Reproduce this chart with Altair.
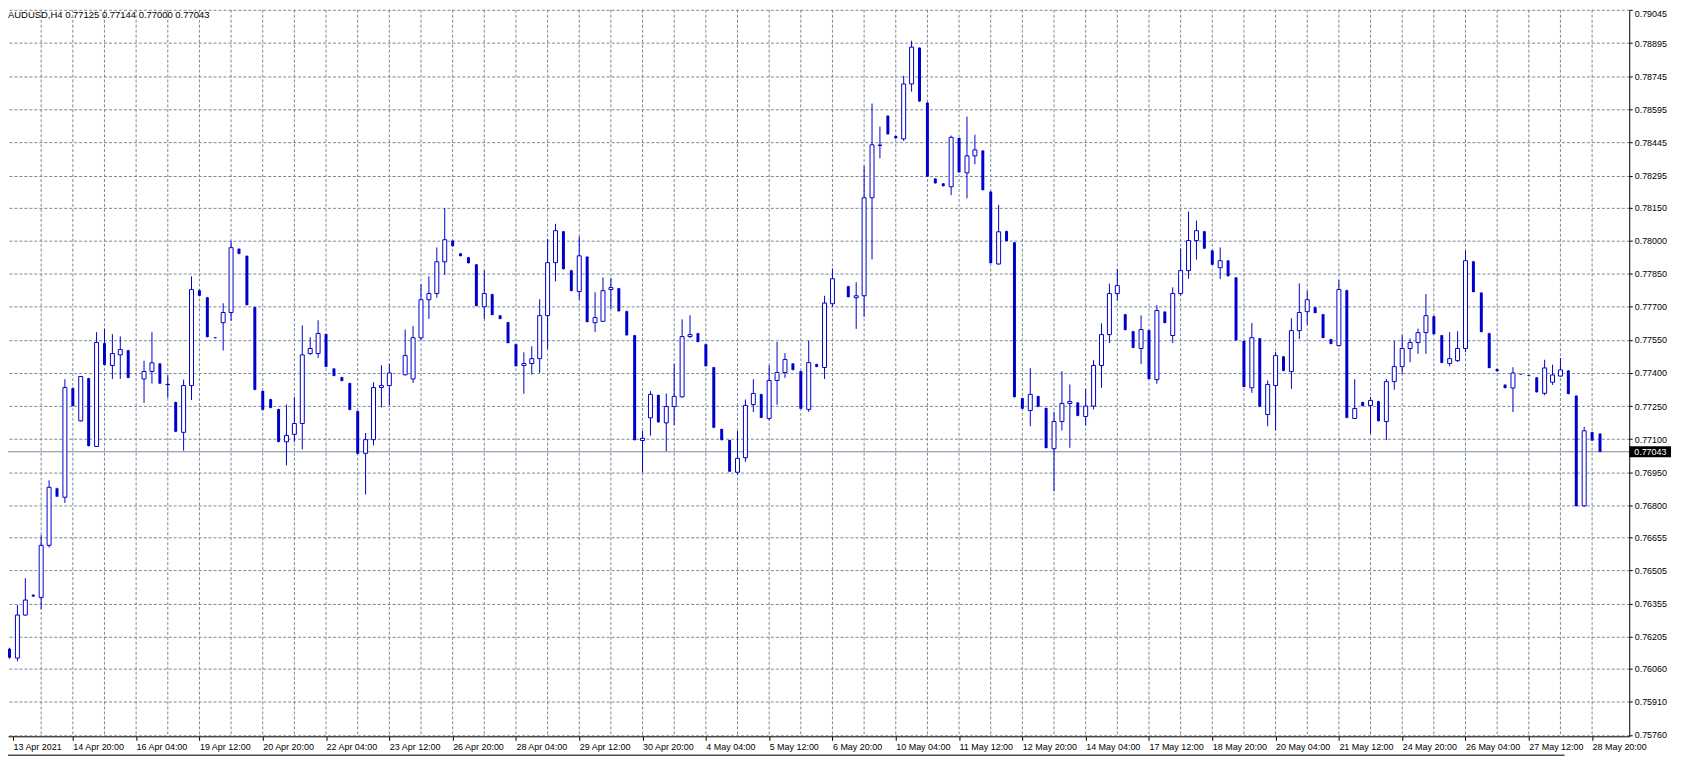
import altair as alt
import pandas as pd

# ---------------- data (AUDUSD H4) ----------------
open_ = [0.76150, 0.76108, 0.76303, 0.76395, 0.76383, 0.76619, 0.76877, 0.76837, 0.77331, 0.77183,
         0.77376, 0.77067, 0.77535, 0.77434, 0.77482, 0.77503, None, 0.77373, 0.77407, 0.77443,
         0.77348, 0.77268, 0.77131, 0.77343, 0.77775, 0.77743, 0.77562, 0.77628, 0.77674, 0.77963,
         0.77931, 0.77698, 0.77318, 0.77281, 0.77236, 0.77088, 0.77122, 0.77171, 0.77488, 0.77488,
         0.77576, 0.77420, 0.77381, 0.77354, 0.77227, 0.77036, 0.77098, 0.77334, 0.77343, None,
         0.77392, 0.77373, 0.77559, 0.77732, 0.77760, 0.77904, 0.78000, 0.77942, 0.77924, 0.77892,
         0.77700, 0.77757, 0.77661, 0.77630, 0.77530, 0.77434, 0.77443, 0.77465, 0.77660, 0.77900,
         0.78042, 0.77865, 0.77769, 0.77927, 0.77628, 0.77634, 0.77778, 0.77784, 0.77680, 0.77571,
         0.77094, 0.77197, 0.77300, 0.77174, 0.77248, 0.77292, 0.77565, 0.77580, 0.77530, 0.77426,
         0.77146, 0.77096, 0.76950, 0.77016, 0.77257, 0.77304, 0.77194, 0.77366, 0.77402, 0.77443,
         0.77408, 0.77235, 0.77440, 0.77425, 0.77714, None, 0.77793, 0.77741, 0.77750, 0.78194,
         0.78432, 0.78566, 0.78474, 0.78461, 0.78710, 0.78874, 0.78625, 0.78281, 0.78259, 0.78244,
         0.78465, 0.78307, 0.78384, 0.78408, 0.78222, 0.77894, 0.78043, 0.77992, 0.77286, 0.77230,
         0.77295, 0.77241, 0.77057, 0.77180, 0.77262, 0.77266, 0.77203, 0.77250, 0.77434, 0.77574,
         0.77760, 0.77666, 0.77589, 0.77511, 0.77594, 0.77370, 0.77678, 0.77570, 0.77760, 0.77864,
         0.78000, 0.78042, 0.77955, 0.77877, 0.77910, 0.77833, 0.77545, 0.77333, 0.77557, 0.77212,
         0.77343, 0.77475, 0.77407, 0.77592, 0.77678, 0.77698, 0.77666, 0.77553, 0.77524, 0.77775,
         0.77194, 0.77268, 0.77253, 0.77272, 0.77180, 0.77361, 0.77429, 0.77511, 0.77538, 0.77583,
         0.77657, 0.77571, 0.77443, 0.77456, 0.77511, 0.77906, 0.77764, 0.77580, 0.77418, 0.77347,
         0.77332, 0.77396, 0.77390, 0.77380, 0.77308, 0.77358, 0.77386, 0.77411, 0.77297, 0.76798,
         0.77132, 0.77125]

high = [0.76155, 0.76348, 0.76470, 0.76397, 0.76665, 0.76914, 0.76880, 0.77372, 0.77335, 0.77386,
        0.77378, 0.77585, 0.77600, 0.77576, 0.77566, 0.77505, None, 0.77456, 0.77585, 0.77445,
        0.77389, 0.77270, 0.77370, 0.77838, 0.77778, 0.77745, 0.77563, 0.77716, 0.77999, 0.77965,
        0.77933, 0.77700, 0.77320, 0.77283, 0.77238, 0.77257, 0.77291, 0.77616, 0.77562, 0.77639,
        0.77578, 0.77422, 0.77383, 0.77356, 0.77229, 0.77128, 0.77358, 0.77435, 0.77441, None,
        0.77597, 0.77612, 0.77802, 0.77838, 0.77969, 0.78147, 0.78002, 0.77944, 0.77926, 0.77894,
        0.77865, 0.77759, 0.77663, 0.77632, 0.77532, 0.77494, 0.77521, 0.77734, 0.78007, 0.78076,
        0.78044, 0.77867, 0.78019, 0.77929, 0.77766, 0.77833, 0.77830, 0.77786, 0.77682, 0.77573,
        0.77137, 0.77318, 0.77302, 0.77307, 0.77441, 0.77643, 0.77661, 0.77582, 0.77532, 0.77428,
        0.77148, 0.77098, 0.77137, 0.77280, 0.77372, 0.77306, 0.77435, 0.77541, 0.77490, 0.77445,
        0.77410, 0.77547, 0.77442, 0.77750, 0.77873, None, 0.77795, 0.77811, 0.78339, 0.78621,
        0.78517, 0.78568, 0.78476, 0.78747, 0.78906, 0.78876, 0.78627, 0.78283, 0.78261, 0.78476,
        0.78467, 0.78562, 0.78480, 0.78410, 0.78224, 0.78162, 0.78045, 0.77994, 0.77288, 0.77422,
        0.77297, 0.77243, 0.77223, 0.77408, 0.77348, 0.77268, 0.77327, 0.77458, 0.77625, 0.77805,
        0.77871, 0.77668, 0.77591, 0.77661, 0.77596, 0.77707, 0.77680, 0.77788, 0.77965, 0.78132,
        0.78091, 0.78044, 0.77957, 0.77969, 0.77912, 0.77835, 0.77547, 0.77627, 0.77559, 0.77366,
        0.77496, 0.77477, 0.77648, 0.77806, 0.77773, 0.77700, 0.77668, 0.77555, 0.77821, 0.77777,
        0.77372, 0.77270, 0.77291, 0.77274, 0.77373, 0.77545, 0.77571, 0.77556, 0.77601, 0.77758,
        0.77659, 0.77573, 0.77585, 0.77589, 0.77956, 0.77908, 0.77766, 0.77582, 0.77420, 0.77349,
        0.77426, 0.77397, 0.77391, 0.77382, 0.77460, 0.77438, 0.77468, 0.77413, 0.77299, 0.77156,
        0.77134, 0.77127]

low = [0.76105, 0.76093, 0.76300, 0.76385, 0.76330, 0.76609, 0.76838, 0.76811, 0.77248, 0.77180,
       0.77067, 0.77065, 0.77435, 0.77373, 0.77373, 0.77376, None, 0.77265, 0.77352, 0.77350,
       0.77288, 0.77132, 0.77048, 0.77278, 0.77748, 0.77561, 0.77557, 0.77502, 0.77637, 0.77938,
       0.77706, 0.77322, 0.77231, 0.77240, 0.77086, 0.76981, 0.77088, 0.77054, 0.77482, 0.77468,
       0.77426, 0.77385, 0.77362, 0.77231, 0.77032, 0.76850, 0.77072, 0.77244, 0.77254, None,
       0.77389, 0.77355, 0.77550, 0.77645, 0.77741, 0.77845, 0.77973, 0.77928, 0.77896, 0.77702,
       0.77645, 0.77661, 0.77643, 0.77534, 0.77429, 0.77306, 0.77392, 0.77400, 0.77509, 0.77815,
       0.77869, 0.77770, 0.77732, 0.77629, 0.77586, 0.77631, 0.77690, 0.77678, 0.77569, 0.77094,
       0.76950, 0.77116, 0.77175, 0.77046, 0.77164, 0.77288, 0.77559, 0.77539, 0.77429, 0.77150,
       0.77094, 0.76951, 0.76941, 0.76998, 0.77223, 0.77195, 0.77185, 0.77256, 0.77378, 0.77412,
       0.77236, 0.77224, 0.77426, 0.77373, 0.77699, None, 0.77742, 0.77600, 0.77655, 0.77915,
       0.78373, 0.78480, 0.78462, 0.78452, 0.78675, 0.78629, 0.78288, 0.78258, 0.78245, 0.78206,
       0.78308, 0.78192, 0.78346, 0.78227, 0.77896, 0.77891, 0.77996, 0.77289, 0.77236, 0.77159,
       0.77245, 0.77058, 0.76864, 0.77140, 0.77061, 0.77204, 0.77162, 0.77235, 0.77333, 0.77536,
       0.77729, 0.77593, 0.77512, 0.77441, 0.77371, 0.77351, 0.77625, 0.77536, 0.77751, 0.77827,
       0.77914, 0.77962, 0.77889, 0.77826, 0.77837, 0.77546, 0.77335, 0.77310, 0.77245, 0.77159,
       0.77140, 0.77408, 0.77328, 0.77554, 0.77618, 0.77670, 0.77557, 0.77530, 0.77520, 0.77195,
       0.77192, 0.77249, 0.77125, 0.77180, 0.77096, 0.77324, 0.77396, 0.77449, 0.77487, 0.77487,
       0.77574, 0.77444, 0.77431, 0.77450, 0.77494, 0.77765, 0.77584, 0.77421, 0.77406, 0.77330,
       0.77223, 0.77392, 0.77385, 0.77311, 0.77299, 0.77346, 0.77383, 0.77303, 0.76795, 0.76794,
       0.77092, 0.77041]

close = [0.76110, 0.76303, 0.76371, 0.76387, 0.76619, 0.76882, 0.76840, 0.77334, 0.77250, 0.77384,
         0.77069, 0.77538, 0.77437, 0.77488, 0.77506, 0.77378, None, 0.77407, 0.77446, 0.77352,
         0.77348, 0.77134, 0.77343, 0.77778, 0.77750, 0.77563, 0.77558, 0.77674, 0.77968, 0.77940,
         0.77708, 0.77324, 0.77233, 0.77242, 0.77088, 0.77117, 0.77171, 0.77482, 0.77511, 0.77579,
         0.77428, 0.77387, 0.77364, 0.77233, 0.77034, 0.77098, 0.77334, 0.77343, 0.77400, None,
         0.77479, 0.77560, 0.77732, 0.77760, 0.77904, 0.78004, 0.77975, 0.77930, 0.77898, 0.77704,
         0.77760, 0.77663, 0.77645, 0.77536, 0.77431, 0.77443, 0.77465, 0.77660, 0.77900, 0.78045,
         0.77871, 0.77772, 0.77931, 0.77631, 0.77651, 0.77773, 0.77787, 0.77680, 0.77571, 0.77096,
         0.77104, 0.77303, 0.77177, 0.77248, 0.77294, 0.77565, 0.77574, 0.77541, 0.77431, 0.77152,
         0.77096, 0.76953, 0.77013, 0.77253, 0.77307, 0.77197, 0.77366, 0.77402, 0.77461, 0.77414,
         0.77238, 0.77447, 0.77428, 0.77717, 0.77827, None, 0.77744, 0.77750, 0.78194, 0.78434,
         0.78432, 0.78482, 0.78464, 0.78710, 0.78877, 0.78631, 0.78290, 0.78260, 0.78247, 0.78468,
         0.78310, 0.78384, 0.78411, 0.78229, 0.77898, 0.78040, 0.77998, 0.77291, 0.77238, 0.77303,
         0.77247, 0.77060, 0.77180, 0.77262, 0.77271, 0.77206, 0.77250, 0.77434, 0.77574, 0.77760,
         0.77796, 0.77595, 0.77514, 0.77597, 0.77373, 0.77683, 0.77627, 0.77760, 0.77864, 0.78000,
         0.78045, 0.77964, 0.77891, 0.77909, 0.77839, 0.77548, 0.77337, 0.77560, 0.77247, 0.77348,
         0.77479, 0.77410, 0.77592, 0.77674, 0.77732, 0.77672, 0.77559, 0.77532, 0.77778, 0.77197,
         0.77239, 0.77251, 0.77275, 0.77182, 0.77361, 0.77429, 0.77511, 0.77538, 0.77583, 0.77660,
         0.77576, 0.77446, 0.77465, 0.77511, 0.77909, 0.77767, 0.77586, 0.77423, 0.77408, 0.77332,
         0.77400, 0.77393, 0.77386, 0.77313, 0.77423, 0.77391, 0.77414, 0.77305, 0.76797, 0.77138,
         0.77094, 0.77043]

x_labels = ["13 Apr 2021", "14 Apr 20:00", "16 Apr 04:00", "19 Apr 12:00", "20 Apr 20:00",
            "22 Apr 04:00", "23 Apr 12:00", "26 Apr 20:00", "28 Apr 04:00", "29 Apr 12:00",
            "30 Apr 20:00", "4 May 04:00", "5 May 12:00", "6 May 20:00", "10 May 04:00",
            "11 May 12:00", "12 May 20:00", "14 May 04:00", "17 May 12:00", "18 May 20:00",
            "20 May 04:00", "21 May 12:00", "24 May 20:00", "26 May 04:00", "27 May 12:00",
            "28 May 20:00"]

y_ticks = [0.79045, 0.78895, 0.78745, 0.78595, 0.78445, 0.78295, 0.78150, 0.78000, 0.77850,
           0.77700, 0.77550, 0.77400, 0.77250, 0.77100, 0.76950, 0.76800, 0.76655, 0.76505,
           0.76355, 0.76205, 0.76060, 0.75910, 0.75760]

last_price = 0.77043
title_text = "AUDUSD,H4  0.77125 0.77144 0.77000 0.77043"

# ---------------- layout / style ----------------
BLUE = "#0000CD"
GRID = "#778899"
FONT = "Liberation Sans"
W, H = 1629, 730
BAR_PX = 8
x_dom = [0.4375, 0.4375 + W / BAR_PX]
y_dom = [0.757534, 0.79046]

df = pd.DataFrame({"bar": list(range(len(open_))), "open": open_, "high": high,
                   "low": low, "close": close}).dropna()
bull = df[df["close"] >= df["open"]]
bear = df[df["close"] < df["open"]]

grid_bars = pd.DataFrame({"bar": [4 * k for k in range(1, 51)]})
label_values = [x_dom[0]] + [8 * k for k in range(1, len(x_labels))]
labels_js = "[" + ",".join("'" + s + "'" for s in x_labels) + "]"


def X(field):
    return alt.X(field, scale=alt.Scale(domain=x_dom, nice=False, zero=False),
                 axis=alt.Axis(values=label_values,
                               labelExpr=labels_js + "[round(datum.value / 8)]",
                               grid=False, domainColor="black", tickColor="black", tickSize=4,
                               labelAlign="left", labelBaseline="top", labelPadding=2,
                               labelFont=FONT, labelFontSize=9, labelColor="black",
                               labelOverlap=False, labelFlush=False, labelBound=False,
                               title=None))


def Y(field):
    return alt.Y(field, scale=alt.Scale(domain=y_dom, nice=False, zero=False),
                 axis=alt.Axis(orient="right", values=y_ticks, format=".5f", grid=True,
                               gridColor=GRID, gridDash=[3, 2], gridWidth=1,
                               domainColor="black", tickColor="black", tickSize=3,
                               labelPadding=2, labelAlign="left",
                               labelBaseline={"condition": {"test": "datum.value > 0.7904",
                                                            "value": "top"},
                                              "value": "middle"},
                               labelFont=FONT, labelFontSize=9, labelColor="black",
                               labelOverlap=False, labelFlush=False, title=None))


vgrid = alt.Chart(grid_bars).mark_rule(color=GRID, strokeDash=[3, 2], strokeWidth=1).encode(
    x=X("bar:Q"))

price_df = pd.DataFrame({"price": [last_price], "label": [f"{last_price:.5f}"]})
price_line = alt.Chart(price_df).mark_rule(color=GRID, strokeWidth=1).encode(
    y=Y("price:Q"))

wicks = alt.Chart(df).mark_rule(color=BLUE, strokeWidth=1).encode(
    x=X("bar:Q"), y=Y("low:Q"), y2="high:Q")

bear_bodies = alt.Chart(bear).mark_bar(size=3, color=BLUE).encode(
    x=X("bar:Q"), y=Y("open:Q"), y2="close:Q")

bull_bodies = alt.Chart(bull).mark_bar(size=4, fill="white", stroke=BLUE, strokeWidth=1).encode(
    x=X("bar:Q"), y=Y("open:Q"), y2="close:Q")

price_box = alt.Chart(price_df).mark_tick(orient="horizontal", size=42, thickness=11,
                                          color="black", opacity=1).encode(
    x=alt.value(W + 21), y=Y("price:Q"))
price_text = alt.Chart(price_df).mark_text(align="left", baseline="middle", color="white",
                                           font=FONT, fontSize=9).encode(
    x=alt.value(W + 5), y=Y("price:Q"), text="label:N")

title_df = pd.DataFrame({"t": [title_text]})
title_mark = alt.Chart(title_df).mark_text(align="left", baseline="top", color="black",
                                           font=FONT, fontSize=9.5).encode(
    x=alt.value(0), y=alt.value(0), text="t:N")

frame_df = pd.DataFrame({"k": [0]})
bottom_frame = alt.Chart(frame_df).mark_rule(color="#505050", strokeWidth=1.5).encode(
    x=alt.value(0), x2=alt.value(1564), y=alt.value(H + 19))

chart = alt.layer(vgrid, price_line, wicks, bear_bodies, bull_bodies,
                  price_box, price_text, title_mark, bottom_frame).properties(
    width=W, height=H,
    autosize=alt.AutoSizeParams(type="none"),
    padding={"left": 0, "top": 0, "right": 47, "bottom": 26},
    background="white",
).configure_view(strokeWidth=0)

chart.save("out.html", embed_options={"renderer": "svg", "actions": False})
